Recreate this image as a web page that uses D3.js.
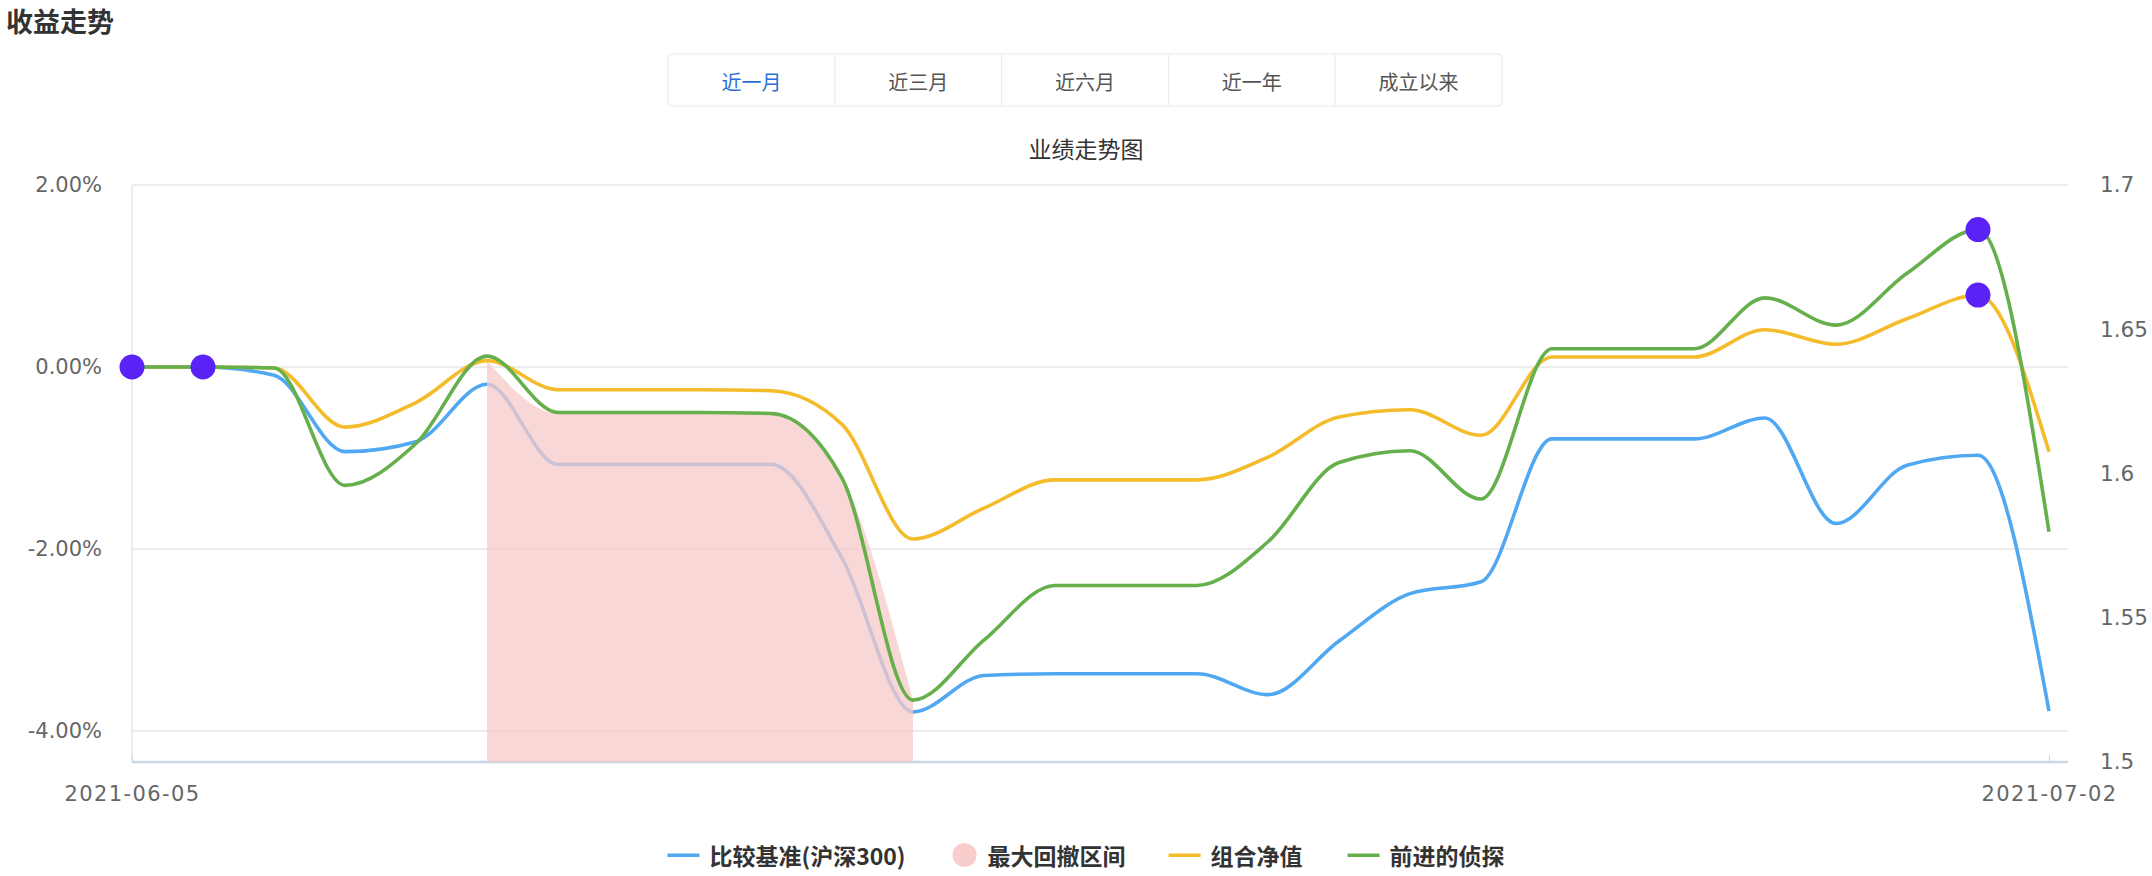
<!DOCTYPE html>
<html>
<head>
<meta charset="utf-8">
<script src="https://cdn.jsdelivr.net/npm/d3@7"></script>
<style>
  body { margin: 0; background: #fff; }
  svg { display: block; }
</style>
</head>
<body>
<div id="chart"></div>
<script>
// daily points, 2021-06-05 .. 2021-07-02
const dates = ["2021-06-05","2021-06-06","2021-06-07","2021-06-08","2021-06-09","2021-06-10","2021-06-11",
  "2021-06-12","2021-06-13","2021-06-14","2021-06-15","2021-06-16","2021-06-17","2021-06-18",
  "2021-06-19","2021-06-20","2021-06-21","2021-06-22","2021-06-23","2021-06-24","2021-06-25",
  "2021-06-26","2021-06-27","2021-06-28","2021-06-29","2021-06-30","2021-07-01","2021-07-02"]

// returns in %
const benchmark = [0, 0, -0.09, -0.93, -0.82, -0.19, -1.07, -1.07, -1.07, -1.07, -2.10, -3.79, -3.39, -3.37,
  -3.37, -3.37, -3.60, -3.01, -2.49, -2.36, -0.79, -0.79, -0.79, -0.56, -1.72, -1.08, -0.97, -3.78]
const portfolio = [0, 0, -0.01, -0.66, -0.39, 0.07, -0.25, -0.25, -0.25, -0.26, -0.63, -1.89, -1.55, -1.24,
  -1.24, -1.24, -0.99, -0.55, -0.47, -0.75, 0.11, 0.11, 0.11, 0.41, 0.25, 0.53, 0.79, -0.93]
const detective = [0, 0, -0.01, -1.30, -0.84, 0.12, -0.50, -0.50, -0.50, -0.51, -1.22, -3.66, -3.00, -2.40,
  -2.40, -2.40, -1.92, -1.05, -0.92, -1.45, 0.20, 0.20, 0.20, 0.76, 0.46, 1.03, 1.51, -1.81]

// max drawdown interval
const drawdownDates = ["2021-06-10","2021-06-11","2021-06-12","2021-06-13","2021-06-14","2021-06-15","2021-06-16"]
const drawdownValues = [0.07, -0.51, -0.51, -0.51, -0.51, -1.22, -3.66]

// mark points
const markDates = ["2021-06-05", "2021-06-06", "2021-07-01", "2021-07-01"]
const markValues = [0, 0, 1.51, 0.79]

const leftTicks = [-4, -2, 0, 2]
const rightTicks = [1.5, 1.55, 1.6, 1.65, 1.7]
const xTicks = ["2021-06-05", "2021-07-02"]

const tabLabels = ["近一月", "近三月", "近六月", "近一年", "成立以来"]
const seriesNames = ["比较基准(沪深300)", "最大回撤区间", "组合净值", "前进的侦探"]

const width = 2152
const height = 876
const plotLeft = 132, plotRight = 2068, plotTop = 185, plotBottom = 762
const cjk = "'Noto Sans CJK SC', sans-serif"
const num = "'DejaVu Sans', sans-serif"
const colors = { blue: "#50a8f2", pink: "#f8cdcb", yellow: "#f4bb2b", green: "#65b04c", mark: "#5b22f6" }

const parse = d3.timeParse("%Y-%m-%d")

const svg = d3.select("#chart").append("svg")
    .attr("width", width)
    .attr("height", height)

// header
svg.append("text")
    .attr("x", 6).attr("y", 20)
    .attr("dominant-baseline", "central")
    .attr("font-family", cjk).attr("font-size", 27).attr("font-weight", "bold")
    .attr("fill", "#333")
    .text("收益走势")

// tabs
const tabX = d3.scaleBand().domain(tabLabels).range([668, 1502])
const tabs = svg.append("g")
tabs.append("rect")
    .attr("x", 668).attr("y", 54).attr("width", 834).attr("height", 52)
    .attr("rx", 4).attr("fill", "#fff").attr("stroke", "#e9e9e9")
tabs.selectAll("line").data(tabLabels.slice(1)).join("line")
    .attr("x1", d => tabX(d)).attr("x2", d => tabX(d))
    .attr("y1", 54).attr("y2", 106)
    .attr("stroke", "#e9e9e9")
tabs.selectAll("text").data(tabLabels).join("text")
    .attr("x", d => tabX(d) + tabX.bandwidth() / 2)
    .attr("y", 81)
    .attr("text-anchor", "middle").attr("dominant-baseline", "central")
    .attr("font-family", cjk).attr("font-size", 20)
    .attr("fill", (d, i) => i === 0 ? "#2a6fd6" : "#555")
    .text(d => d)

svg.append("text")
    .attr("x", 1086).attr("y", 148)
    .attr("text-anchor", "middle").attr("dominant-baseline", "central")
    .attr("font-family", cjk).attr("font-size", 23).attr("fill", "#333")
    .text("业绩走势图")

// scales
const xScale = d3.scaleTime()
    .domain([parse(dates[0]), parse(dates[dates.length - 1])])
    .range([plotLeft, plotRight - 19])
const yLeft = d3.scaleLinear().domain([-4.34, 2]).range([plotBottom, plotTop])
const yRight = d3.scaleLinear().domain([1.5, 1.7]).range([plotBottom, plotTop])

// grid
svg.append("g").selectAll("line").data(leftTicks).join("line")
    .attr("x1", plotLeft).attr("x2", plotRight)
    .attr("y1", d => yLeft(d)).attr("y2", d => yLeft(d))
    .attr("stroke", "#e6e6e6").attr("stroke-width", 1.5)

// axes
const gLeft = svg.append("g")
    .attr("transform", "translate(" + plotLeft + ",0)")
    .call(d3.axisLeft(yLeft).tickValues(leftTicks).tickSize(0).tickPadding(30)
        .tickFormat(d => d.toFixed(2) + "%"))
gLeft.select(".domain").remove()

const gRight = svg.append("g")
    .attr("transform", "translate(" + plotRight + ",0)")
    .call(d3.axisRight(yRight).tickValues(rightTicks).tickSize(0).tickPadding(32)
        .tickFormat(d3.format("")))
gRight.select(".domain").remove()

svg.append("line")
    .attr("x1", plotLeft).attr("x2", plotLeft).attr("y1", plotTop).attr("y2", plotBottom)
    .attr("stroke", "#d9dfec").attr("stroke-width", 1.2)

const gBottom = svg.append("g")
    .attr("transform", "translate(0," + plotBottom + ")")
    .call(d3.axisBottom(xScale).tickValues(xTicks.map(parse)).tickSize(-7).tickPadding(24)
        .tickFormat(d3.timeFormat("%Y-%m-%d")))
gBottom.select(".domain")
    .attr("d", "M" + plotLeft + ",0H" + plotRight)
    .attr("stroke", "#cbd5e8").attr("stroke-width", 2.5)
gBottom.selectAll(".tick line").attr("stroke", "#cbd5e8")

svg.selectAll(".tick text")
    .attr("font-family", num).attr("fill", "#666")
gLeft.selectAll(".tick text").attr("font-size", 21)
gRight.selectAll(".tick text").attr("font-size", 21.5)
gBottom.selectAll(".tick text").attr("font-size", 21).attr("letter-spacing", 1.4)

// lines
const line = d3.line()
    .x(d => xScale(d.date))
    .y(d => yLeft(d.v))
    .curve(d3.curveMonotoneX)

const toPoints = vals => vals.map((v, i) => ({ date: parse(dates[i]), v: v }))

svg.append("path")
    .datum(toPoints(benchmark))
    .attr("d", line)
    .attr("fill", "none").attr("stroke", colors.blue).attr("stroke-width", 3.6)

const area = d3.area()
    .x(d => xScale(d.date))
    .y0(plotBottom)
    .y1(d => yLeft(d.v))
    .curve(d3.curveMonotoneX)

svg.append("path")
    .datum(drawdownValues.map((v, i) => ({ date: parse(drawdownDates[i]), v: v })))
    .attr("d", area)
    .attr("fill", "rgb(247,202,200)").attr("fill-opacity", 0.75)

svg.append("path")
    .datum(toPoints(portfolio))
    .attr("d", line)
    .attr("fill", "none").attr("stroke", colors.yellow).attr("stroke-width", 3.6)

svg.append("path")
    .datum(toPoints(detective))
    .attr("d", line)
    .attr("fill", "none").attr("stroke", colors.green).attr("stroke-width", 3.6)

// mark points
svg.append("g").selectAll("circle").data(markValues).join("circle")
    .attr("cx", (d, i) => xScale(parse(markDates[i])))
    .attr("cy", d => yLeft(d))
    .attr("r", 12.5)
    .attr("fill", colors.mark)

// legend
const legendColors = [colors.blue, colors.pink, colors.yellow, colors.green]
const legend = svg.append("g")
const items = legend.selectAll("g").data(seriesNames).join("g")
items.append("text")
    .attr("x", 42).attr("y", 0)
    .attr("dominant-baseline", "central")
    .attr("font-family", cjk).attr("font-size", 23).attr("font-weight", "bold")
    .attr("fill", "#333")
    .text(d => d)
items.each(function (d, i) {
    const g = d3.select(this)
    if (i === 1) {
        g.append("circle").attr("cx", 14).attr("cy", 0).attr("r", 12).attr("fill", legendColors[i])
        g.select("text").attr("x", 37)
    } else {
        g.append("rect").attr("x", 0).attr("y", -1.5).attr("width", 32).attr("height", 3.5)
            .attr("fill", legendColors[i])
    }
})
// lay out legend items centred under the chart
let cursor = 0
const offsets = []
items.each(function () {
    offsets.push(cursor)
    cursor += this.getBBox().width + 45
})
const total = cursor - 45
items.attr("transform", (d, i) => "translate(" + (1086 - total / 2 + offsets[i]) + ",855)")
</script>
</body>
</html>
